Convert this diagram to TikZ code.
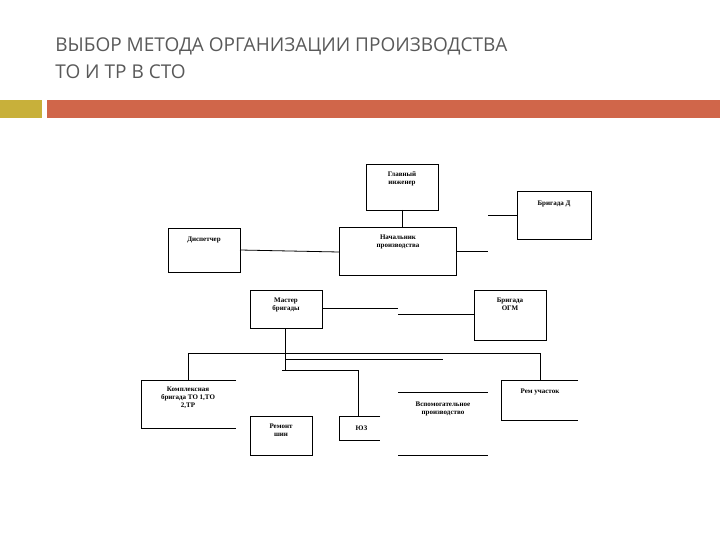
\documentclass[tikz,border=0pt]{standalone}
\usepackage{fontspec}
\setmainfont{Liberation Serif}
\newfontfamily\ttl{Open Sans}
\begin{document}
\begin{tikzpicture}[x=1pt,y=-1pt,line width=0.8pt,
  lbl/.style={font=\bfseries\fontsize{7}{8}\selectfont,align=center,anchor=north}]
\useasboundingbox (0,0) rectangle (720,540);
\node[anchor=west,text=black!65,font=\ttl\fontsize{19}{27}\selectfont,align=left,inner sep=0pt] (title) at (55,58) {ВЫБОР МЕТОДА ОРГАНИЗАЦИИ ПРОИЗВОДСТВА\\ТО И ТР В СТО};
\fill[color={rgb,255:red,200;green,176;blue,58}] (0,100) rectangle (42,118);
\fill[color={rgb,255:red,208;green,102;blue,74}] (47,100) rectangle (720,118);
\draw (366,164) rectangle (438,210);
\node[lbl] (gi) at (402,168) {Главный\\инженер};
\draw (517,191) rectangle (591,239);
\node[lbl] (bd) at (554,197) {Бригада Д};
\draw (168,228) rectangle (240,272);
\node[lbl] (ds) at (204,233) {Диспетчер};
\draw (339,227) rectangle (456,275);
\node[lbl] (np) at (398,231) {Начальник\\производства};
\draw (488,215) -- (517,215);
\draw (240,250) -- (339,252);
\draw (456,251) -- (488,251);
\draw (402,210) -- (402,227);
\draw (250,290) rectangle (322,328);
\node[lbl] (mb) at (286,294) {Мастер\\бригады};
\draw (474,290) rectangle (546,340);
\node[lbl] (ogm) at (510,294) {Бригада\\ОГМ};
\draw (322,308) -- (398,308);
\draw (398,314) -- (474,314);
\draw (285,328) -- (285,370);
\draw (188,380) -- (188,353) -- (540,353) -- (540,380);
\draw (285,359) -- (443,359);
\draw (282,370) -- (358,370) -- (358,416);
\draw (236,380) -- (141,380) -- (141,428) -- (236,428);
\node[lbl] (kb) at (188,383) {Комплексная\\бригада ТО 1,ТО\\2,ТР};
\draw (250,416) rectangle (312,455);
\node[lbl] (rs) at (281,420) {Ремонт\\шин};
\draw (380,416) -- (339,416) -- (339,440) -- (380,440);
\node[lbl,anchor=west] (yz) at (352,428) {ЮЗ};
\draw (398,392) -- (488,392);
\draw (398,455) -- (488,455);
\node[lbl] (vp) at (443,398) {Вспомогательное\\производство};
\draw (578,380) -- (501,380) -- (501,420) -- (578,420);
\node[lbl] (ru) at (540,385) {Рем участок};
\end{tikzpicture}
\end{document}
